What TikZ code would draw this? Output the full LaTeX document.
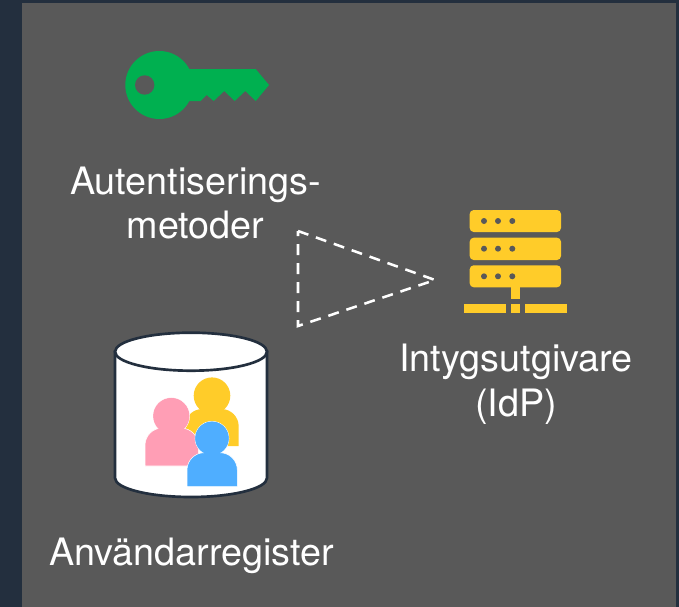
\documentclass[tikz,border=0pt]{standalone}
\usepackage{fontspec}
\usepackage{color}
\setmainfont{TeX Gyre Heros}
\definecolor{navy}{HTML}{232F3E}
\definecolor{panel}{HTML}{595959}
\definecolor{keygreen}{HTML}{00B050}
\definecolor{idpyellow}{HTML}{FFCC29}
\definecolor{userpink}{HTML}{FF9EB5}
\definecolor{userblue}{HTML}{4FAEFF}
\tikzset{
  caption/.style={text=white, align=center, inner sep=0pt, font=\fontsize{28.3}{33.5}\selectfont},
  rack/.style={fill=idpyellow, rounded corners=3pt},
  led/.style={fill=panel},
}
\begin{document}
\begin{tikzpicture}[x=0.75pt, y=-0.75pt, node distance=88.5pt]
      \fill [navy] (0,0) rectangle (679,607);
      \fill [panel] (22,3) rectangle (676,607);
      \useasboundingbox (0,0) rectangle (679,607);
      % key
      \coordinate (key) at (195.5,85);
      \node [caption] (metoder) [below of=key] {Autentiserings-\\metoder};
      \fill [keygreen] (159.3,85) circle [radius=34];
      \fill [keygreen] (185,69) -- (255.7,69) -- (269,85) -- (255.7,101) -- (245.3,91) -- (234.7,101)
        -- (224.3,91) -- (213.7,101) -- (206.7,95) -- (200.7,101) -- (185,101) -- cycle;
      \fill [panel] (144.7,85) circle [radius=9.7];
      % cylinder with users
      \coordinate (register) at (191.5,415);
      \node [caption, node distance=105.5pt] (anvandare) [below of=register] {Användarregister};
      \draw [navy, fill=white, line width=2pt] (115,351.7) -- (115,478) arc [start angle=180, end angle=360, x radius=76, y radius=-19]
        -- (267,351.7) -- cycle;
      \draw [navy, fill=white, line width=2pt] (191,351.7) ellipse [x radius=76, y radius=19];
      \fill [idpyellow] (212,395.7) circle [radius=18.3];
      \fill [idpyellow, rounded corners=13pt] (185,446) -- (185,409) -- (238.7,409) [sharp corners] -- (238.7,446) -- cycle;
      \draw [white, fill=userpink, line width=0.4pt] (171.3,416) circle [radius=18.3];
      \draw [white, fill=userpink, line width=0.4pt, rounded corners=13pt] (145,466) -- (145,428) -- (198.3,428) [sharp corners] -- (198.3,466) -- cycle;
      \fill [userpink] (171.3,416) circle [radius=18];
      \draw [white, fill=userblue, line width=0.4pt] (212,438.3) circle [radius=17];
      \draw [white, fill=userblue, line width=0.4pt, rounded corners=13pt] (187,486.7) -- (187,452.7) -- (237.3,452.7) [sharp corners] -- (237.3,486.7) -- cycle;
      \fill [userblue] (212,438.3) circle [radius=16.7];
      % server
      \coordinate (idp) at (516,260);
      \node [caption, node distance=93pt] (intyg) [below of=idp] {Intygsutgivare\\(IdP)};
      \foreach \top/\bot/\mid in {210/232/221, 237.7/260/248.7, 265.3/287.3/276.3} {
        \fill [rack] (469.7,\top) rectangle (561,\bot);
        \foreach \px in {484,498,512.3}
          \fill [led] (\px,\mid) circle [radius=3];
      }
      \fill [idpyellow] (511,287) rectangle (520,299);
      \fill [idpyellow] (464,304) rectangle (506,313);
      \fill [idpyellow] (511,304) rectangle (520,313);
      \fill [idpyellow] (525,304) rectangle (567,313);
      % dashed triangle
      \coordinate (tria) at (298,231);
      \coordinate (trib) at (435,280);
      \coordinate (tric) at (298,326);
      \draw [white, line width=1.9pt, dash pattern=on 8.25pt off 6pt] (tria) -- (trib) -- (tric) -- cycle;
\end{tikzpicture}
\end{document}
